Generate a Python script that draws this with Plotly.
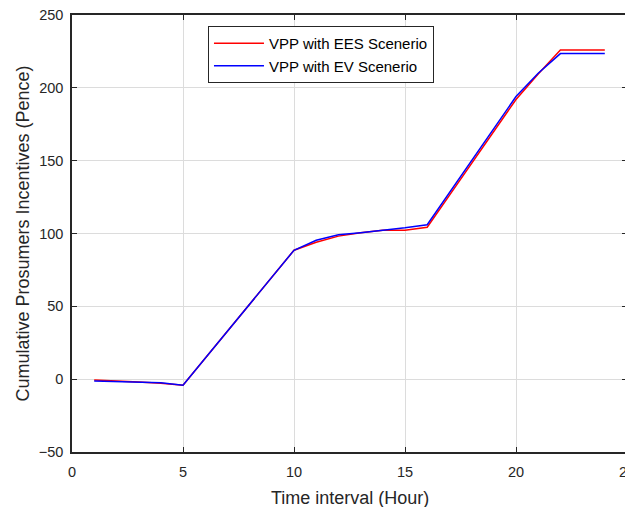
import plotly.graph_objects as go

hours = list(range(1, 25))
ees = [-0.5, -1.5, -2.0, -2.8, -4.2, 14.3, 32.8, 51.3, 69.9, 88.5,
       94.0, 98.2, 100.5, 102.3, 102.3, 104.3, 126.2, 148.2, 170.1, 192.0,
       209.5, 226.0, 226.0, 226.0]
ev = [-1.2, -1.6, -2.0, -2.4, -4.2, 14.3, 32.8, 51.3, 69.9, 88.5,
      95.4, 99.1, 100.5, 102.0, 103.9, 106.0, 128.0, 150.0, 172.0, 194.0,
      210.0, 223.5, 223.5, 223.5]

fig = go.Figure()
fig.add_trace(go.Scatter(x=hours, y=ees, mode="lines", name="VPP with EES Scenerio",
                         line=dict(color="#ff0000", width=1.5)))
fig.add_trace(go.Scatter(x=hours, y=ev, mode="lines", name="VPP with EV Scenerio",
                         line=dict(color="#0000ff", width=1.5)))

axis_common = dict(showgrid=True, gridcolor="#dcdcdc", gridwidth=1,
                   showline=True, linecolor="#262626", linewidth=1.5, mirror="ticks",
                   ticks="inside", ticklen=5, tickcolor="#262626",
                   tickfont=dict(family="Liberation Sans, Arial", size=14.5, color="#262626"),
                   zeroline=False, automargin=False, ticklabeloverflow="allow")

fig.update_layout(
    width=625, height=499,
    margin=dict(l=64, r=6, t=7, b=55),
    paper_bgcolor="white", plot_bgcolor="white",
    font=dict(family="Liberation Sans, Arial", color="#262626"),
    xaxis=dict(range=[0, 25], tickvals=[0, 5, 10, 15, 20, 25], ticklabelstandoff=6,
               **axis_common),
    yaxis=dict(range=[-50, 250], tickvals=[-50, 0, 50, 100, 150, 200, 250], ticklabelstandoff=4,
               **axis_common),
    legend=dict(x=0.245, y=0.975, xanchor="left", yanchor="top",
                bgcolor="white", bordercolor="#262626", borderwidth=1,
                font=dict(size=15, color="black"), tracegroupgap=0, itemwidth=50),
    showlegend=True,
    annotations=[
        dict(text="Time interval (Hour)", xref="paper", yref="paper",
             x=0.5, y=-0.105, xanchor="center", yanchor="middle", showarrow=False,
             font=dict(size=18, color="#262626")),
        dict(text="Cumulative Prosumers Incentives (Pence)", xref="paper", yref="paper",
             x=-0.09, y=0.5, xanchor="center", yanchor="middle", showarrow=False,
             textangle=-90, font=dict(size=18, color="#262626")),
    ],
)

fig.write_html("out.html")
